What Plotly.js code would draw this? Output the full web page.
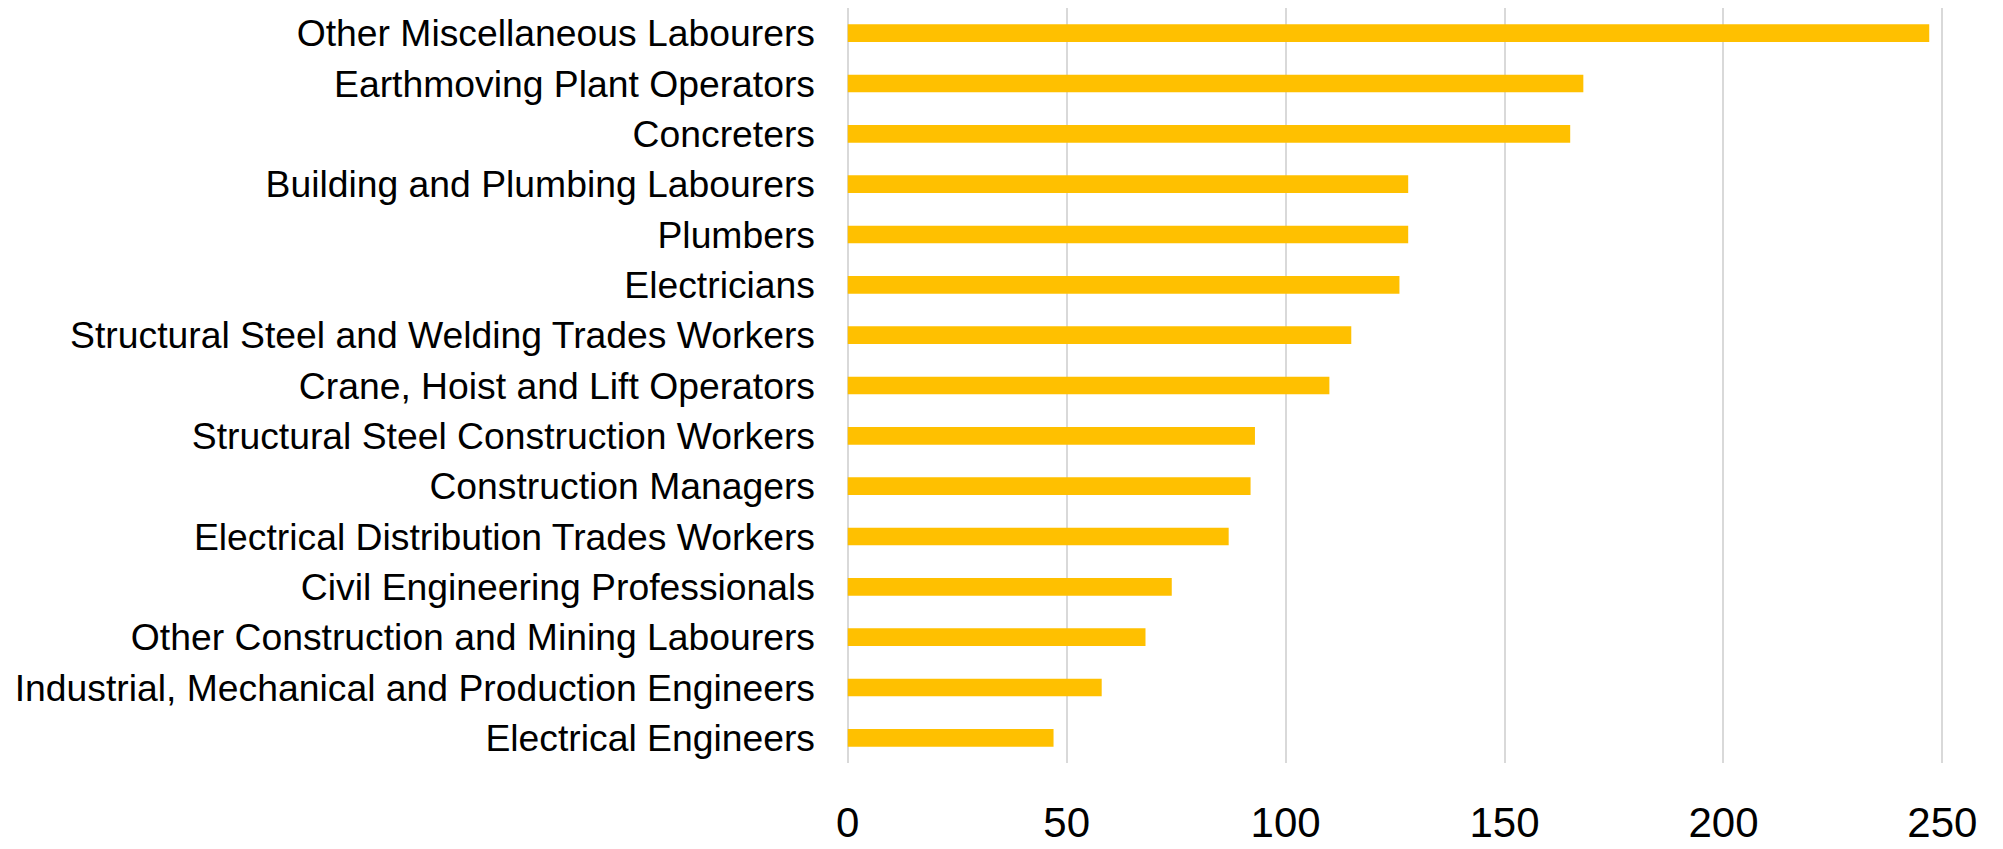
<!DOCTYPE html>
<html>
<head>
<meta charset="utf-8">
<script src="https://cdn.plot.ly/plotly-3.0.1.min.js"></script>
<style>
html,body{margin:0;padding:0;background:#fff;}
#chart{width:2003px;height:849px;}
</style>
</head>
<body>
<div id="chart"></div>
<script>
const occupations = [
  "Other Miscellaneous Labourers",
  "Earthmoving Plant Operators",
  "Concreters",
  "Building and Plumbing Labourers",
  "Plumbers",
  "Electricians",
  "Structural Steel and Welding Trades Workers",
  "Crane, Hoist and Lift Operators",
  "Structural Steel Construction Workers",
  "Construction Managers",
  "Electrical Distribution Trades Workers",
  "Civil Engineering Professionals",
  "Other Construction and Mining Labourers",
  "Industrial, Mechanical and Production Engineers",
  "Electrical Engineers"
];
const counts = [247, 168, 165, 128, 128, 126, 115, 110, 93, 92, 87, 74, 68, 58, 47];
const xTicks = [0, 50, 100, 150, 200, 250];

const trace = {
  type: "bar",
  orientation: "h",
  y: occupations,
  x: counts,
  marker: {color: "#FFC000", line: {width: 0}},
  hoverinfo: "x+y"
};

const layout = {
  width: 2003,
  height: 849,
  margin: {l: 846, r: 58, t: 7.5, b: 86, pad: 0},
  paper_bgcolor: "#ffffff",
  plot_bgcolor: "#ffffff",
  showlegend: false,
  bargap: 0.65,
  font: {family: "Liberation Sans, Arial, sans-serif", color: "#000000"},
  xaxis: {
    range: [-0.4, 250.6],
    tickvals: xTicks,
    ticktext: xTicks.map(String),
    showgrid: true,
    gridcolor: "#D9D9D9",
    gridwidth: 2,
    zeroline: false,
    showline: false,
    ticks: "",
    ticklabelstandoff: 31,
    tickfont: {size: 42, color: "#000000"},
    fixedrange: true
  },
  yaxis: {
    type: "category",
    autorange: "reversed",
    showgrid: false,
    zeroline: false,
    showline: false,
    ticks: "",
    ticklabelstandoff: 30,
    tickfont: {size: 37.3, color: "#000000"},
    fixedrange: true
  }
};

Plotly.newPlot("chart", [trace], layout, {displayModeBar: false, staticPlot: true});
</script>
</body>
</html>
